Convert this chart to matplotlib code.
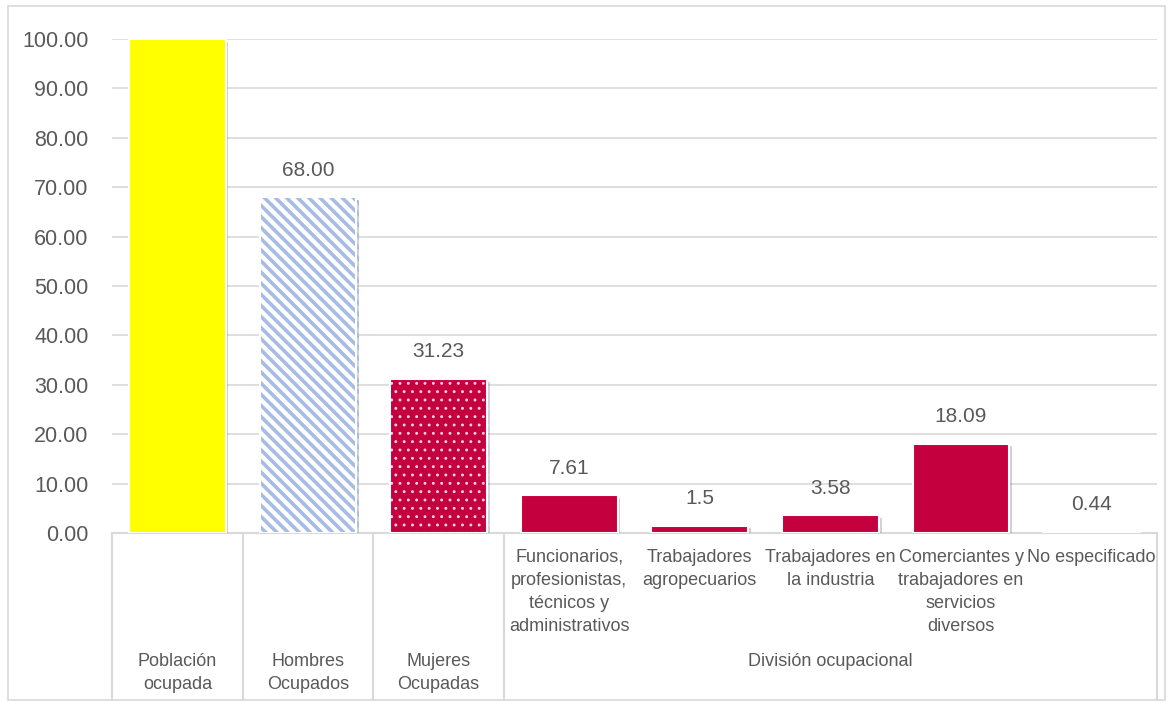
import numpy as np
import matplotlib
matplotlib.use("Agg")
import matplotlib.pyplot as plt
import matplotlib.patheffects as pe
from matplotlib.patches import Rectangle

# data
categories = ["Población\nocupada", "Hombres\nOcupados", "Mujeres\nOcupadas",
              "Funcionarios,\nprofesionistas,\ntécnicos y\nadministrativos",
              "Trabajadores\nagropecuarios", "Trabajadores en\nla industria",
              "Comerciantes y\ntrabajadores en\nservicios\ndiversos",
              "No especificado"]
values = [100.0, 68.00, 31.23, 7.61, 1.5, 3.58, 18.09, 0.44]
value_labels = ["", "68.00", "31.23", "7.61", "1.5", "3.58", "18.09", "0.44"]
group_label = "División ocupacional"
yticks = [0, 10, 20, 30, 40, 50, 60, 70, 80, 90, 100]

plt.rcParams['font.family'] = ['Liberation Sans', 'DejaVu Sans']
narrow = ['Liberation Sans Narrow', 'Liberation Sans', 'DejaVu Sans']

W, H = 1170, 702
fig = plt.figure(figsize=(W / 100, H / 100), dpi=100)
fig.patch.set_facecolor("white")
fig.patches.append(Rectangle((8 / W, 2 / H), (1165 - 8) / W, (694) / H,
                             transform=fig.transFigure, fill=False,
                             edgecolor="#D9D9D9", lw=1.2))

x0, x1 = 112, 1157
y0, y1 = 533, 39
ax = fig.add_axes([x0 / W, (H - y0) / H, (x1 - x0) / W, (y0 - y1) / H])

grey = "#595959"
crimson = "#C5003E"
bw = 0.74
x = np.arange(len(values))
shadow = [pe.SimplePatchShadow(offset=(2, -2), shadow_rgbFace="#808080", alpha=0.35), pe.Normal()]

def hatch_bar(i, face, hatch, hcolor, hlw):
    with plt.rc_context({'hatch.linewidth': hlw}):
        b = ax.bar(x[i], values[i], width=bw, color=face, edgecolor=hcolor,
                   linewidth=0, hatch=hatch, zorder=3)[0]
        if hasattr(b, "set_hatch_linewidth"):
            b.set_hatch_linewidth(hlw)
    b.set_path_effects(shadow)
    ax.bar(x[i], values[i], width=bw, fill=False, edgecolor="white", linewidth=1.5, zorder=4)
    return b

# plain bars
plain = [0, 3, 4, 5, 6, 7]
colors = ["#FFFF00"] + [crimson] * 5
bars = ax.bar(x[plain], [values[i] for i in plain], width=bw, color=colors,
              edgecolor="white", linewidth=1.5, zorder=3)
for b in bars:
    b.set_path_effects(shadow)

# patterned bars
hatch_bar(1, "white", "\\\\\\", "#A6BCE4", 2.6)
hatch_bar(2, crimson, "..", "#F6D3DE", 0.9)

for xi, v, lab in zip(x, values, value_labels):
    if lab:
        ax.text(xi, v + 3.5, lab, ha="center", va="bottom", fontsize=15, color=grey)

ax.set_xlim(-0.5, len(values) - 0.5)
ax.set_ylim(0, 100)
ax.set_yticks(yticks)
ax.set_yticklabels(["%.2f" % t for t in yticks], fontsize=15.5, color=grey)
ax.tick_params(axis="y", length=0, pad=17)
ax.tick_params(axis="x", length=0, labelbottom=False)
ax.grid(axis="y", color="#D9D9D9", lw=1.2, zorder=0)
for s in ["top", "right", "left"]:
    ax.spines[s].set_visible(False)
ax.spines["bottom"].set_color("#D9D9D9")
ax.spines["bottom"].set_linewidth(1.5)

# multi-level category axis
trans = ax.get_xaxis_transform()
y_bottom = -(700 - y0) / (y0 - y1)
for xv in [-0.5, 0.5, 1.5, 2.5, len(values) - 0.5]:
    ax.plot([xv, xv], [0, y_bottom], transform=trans, clip_on=False,
            color="#D9D9D9", lw=1.5)

def ypix(p):
    return -(p - y0) / (y0 - y1)

for xi, cat in enumerate(categories):
    if xi < 3:
        ax.text(xi, ypix(693), cat, transform=trans, ha="center", va="bottom",
                fontsize=13, color=grey, family=narrow, linespacing=1.45)
    else:
        ax.text(xi, ypix(549), cat, transform=trans, ha="center", va="top",
                fontsize=13, color=grey, family=narrow, linespacing=1.45)
ax.text(5, ypix(662), group_label, transform=trans, ha="center", va="center",
        fontsize=13, color=grey, family=narrow)

fig.savefig("out.png", dpi=100)
